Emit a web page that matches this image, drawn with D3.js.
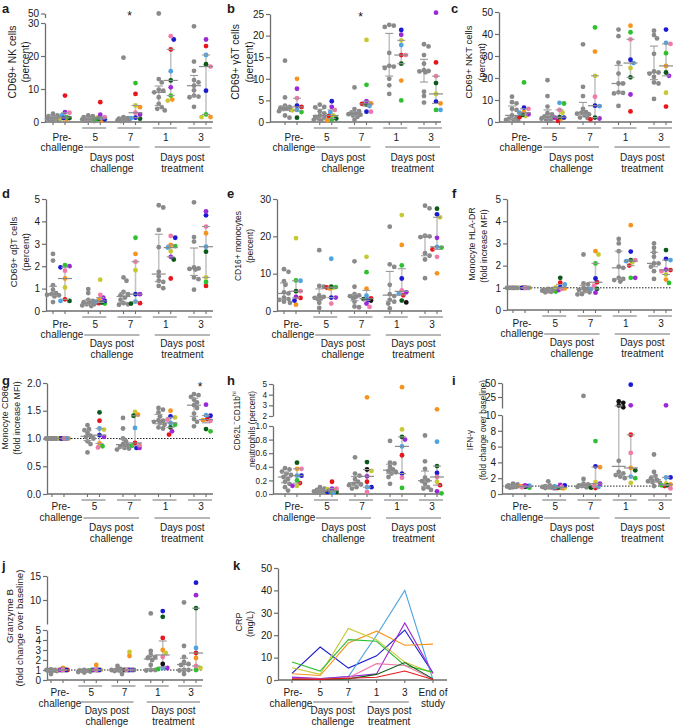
<!DOCTYPE html>
<html><head><meta charset="utf-8">
<script src="https://cdn.jsdelivr.net/npm/d3@7"></script>
<style>
body{margin:0;background:#fff}
text{font-family:'Liberation Sans',Arial,Helvetica,sans-serif;fill:#1a1a1a}
</style>
</head><body>
<script>
// ---------------- DATA ----------------
const groups = ["Pre-challenge","5","7","1","3"];
const subjectNames = ["red","orange","yellow","green","darkgreen","lightblue","blue","purple","pink","black"];
const subjectColors = ["#e8161c","#f7941d","#c8c834","#2ec02e","#0b5a1a","#4ea4e2","#1a1ad2","#9b2ad6","#f07aa8","#111111"];

// a: CD69+ NK cells (percent)
const aGray = [[2.5,2.0,1.8,1.5,1.3,1.2,1.0,1.0,0.8,0.6,0.5],[2.0,1.8,1.5,1.2,1.0,0.9,0.8,0.6,0.5,0.4,0.3],[19.5,1.5,1.2,1.0,1.0,0.9,0.8,0.7,0.5,0.4,0.3],[50,13,12,9.8,9.5,9,7.5,5.5,4.5,4,3.5],[29,18.3,15.5,12.7,12,11,9.6,8,7.7,7.5,4.6]];
const aColor = [[8,0.8,1.0,1.5,1.2,2.0,1.2,3.0,2.8,null],[6,0.5,1.3,0.9,1.0,1.2,0.8,2.2,1.5,null],[8.5,4.5,5.0,11.8,1.0,1.2,1.3,2.3,2.8,null],[22,6.8,6.5,8,12.6,15.4,25,10.5,26,null],[23,1.5,1.5,2.3,17.5,20.3,9.5,25,16.8,null]];
// b: CD69+ gdT cells
const bGray = [[14.2,5.7,3.8,3.5,3.3,3.1,3.0,2.8,2.5,1.5,1.0],[4.0,3.5,3.4,2.5,2.0,1.5,1.2,1.0,0.8,0.5,0.3],[8.0,3.0,2.5,2.2,2.0,1.8,1.7,1.5,1.2,0.5],[22.5,22.3,22.0,16,13,12.8,12.5,10,8.5,6.5],[18,17.5,15.5,13.5,12,11.8,11.7,11.5,7,6,4.5]];
const bColor = [[3.5,10,2.7,2.3,1.0,2.8,3.8,7.7,5.5,null],[1.4,0.4,1.5,0.6,0.8,2.3,4.8,3.5,2.8,null],[4.2,4.3,19,8.6,4.0,3.7,2.4,4.8,2.4,null],[15.5,9.6,18.9,5.0,13.5,17.8,21.3,20.2,15.5,null],[13.8,4.3,6.5,2.8,9.0,2.8,4.7,25.3,10.6,null]];
// c: CD69+ NKT cells
const cGray = [[11.5,9,8.5,6,5.5,3,2,1.5,1,1,0.8],[19,11.8,7,4,3.5,2.5,2,1.8,1.5,1.2,0.5],[35.3,16,11.8,6,4.5,4.3,3.8,3.5,3,2,1.8],[42,39,27,22,17.5,17.5,13.5,13.2,13,7.3],[41.5,39.5,38,31,23,22.5,22,20.5,18,17.5,10.5]];
const cColor = [[2.2,4.5,2.7,18,3.2,4.2,6.5,3.5,6.0,null],[0.5,1.5,4.2,8.4,2.2,8.7,2.0,2.0,5.5,null],[1.2,32,21,43,2.0,7.2,7.4,1.6,11.5,null],[4.8,43.8,24.5,40.8,20.3,26.8,28.3,12.5,37.6,null],[7,25.5,13.3,31.3,22.5,36,42,21,35.5,null]];
// d: CD69+ abT cells
const dGray = [[2.55,2.25,1.15,0.95,0.8,0.75,0.72,0.7,0.65,0.4],[0.98,0.8,0.5,0.45,0.4,0.35,0.3,0.3,0.25,0.22],[1.5,1.35,0.85,0.75,0.7,0.6,0.5,0.35,0.3,0.28],[4.72,4.62,3.62,2.85,1.75,1.55,1.35,1.3,1.12,1.02],[4.85,3.3,3.1,1.95,1.9,1.88,1.85,1.5,1.42,0.95]];
const dColor = [[0.52,1.45,1.05,2.05,0.45,0.45,1.95,2.0,1.8,null],[0.35,0.5,1.4,0.33,0.38,0.42,0.45,0.6,0.72,null],[0.35,2.55,1.82,3.27,0.33,0.42,0.75,0.75,2.2,null],[1.45,2.95,2.67,2.9,2.3,2.83,3.27,2.42,3.35,null],[1.12,3.47,1.5,1.3,2.65,2.87,4.27,4.45,3.77,null]];
// e: CD16+ monocytes
const eGray = [[11.2,10.5,8,7,5,4.7,3.6,3.2,3,2.5,2.2],[16.3,6.7,6.5,4.2,3.8,3.5,3.3,3.2,2.2,0.8],[13.3,6.5,4.5,4.2,4.0,3.8,3.5,2.5,1.2,1.0],[22.6,12.5,11.8,7,4.5,4,3,2.5,2,0.7],[28.2,27.5,20.2,20,19.8,15.5,14.8,13.8,8.8]];
const eColor = [[3.5,1.7,19.5,8.2,5.3,8.1,2.8,3.8,5.3,null],[6.3,6.0,6.2,6.4,6.5,14,3.6,3.6,2.0,null],[3.4,6.0,14.5,10.4,3.2,4.1,3.0,2.0,1.1,2.8],[4.2,17.7,25.7,12.2,2.8,4.6,8.7,5.0,5.5,2.3],[16.5,10.1,25.1,17,27.4,17.2,25.9,19.6,14.5,null]];
// f: Monocyte HLA-DR
const fGray = [[1,1,1,1,1,1,1,1,1,1],[0.95,0.95,0.92,0.9,0.9,0.88,0.87,0.85,0.82,0.8],[2.5,1.2,1.15,1.0,0.95,0.9,0.85,0.8,0.72,0.7],[3.2,3.0,2.65,1.95,1.9,1.45,1.4,1.35,1.28],[3.0,2.8,2.6,2.4,2.1,2.1,1.95,1.75,1.4]];
const fColor = [[1,1,1,1,1,1,1,1,1,null],[1.23,0.97,1.02,0.83,1.45,1.15,1.03,0.9,0.95,null],[1.25,2.65,2.5,2.1,0.95,0.95,1.42,0.78,1.1,null],[2.0,3.82,2.15,1.45,2.25,2.2,2.63,1.45,2.25,null],[1.8,1.37,1.6,1.22,2.7,2.25,2.3,1.82,1.75,null]];
// g: Monocyte CD86
const gGray = [[1,1,1,1,1,1,1,1,1,1],[1.24,1.17,1.15,1.1,1.05,1.03,1.0,0.95,0.9,0.75],[1.37,1.18,1.0,0.95,0.9,0.88,0.85,0.83,0.82,0.8],[1.55,1.52,1.47,1.4,1.33,1.32,1.3,1.28,1.25,1.2,1.18],[1.8,1.78,1.75,1.7,1.65,1.6,1.55,1.45,1.35,1.3,1.22]];
const gColor = [[1,1,1,1,1,1,1,1,1,null],[1.32,0.91,1.16,0.86,1.47,1.18,1.06,1.03,0.84,null],[0.92,1.43,1.48,0.87,1.41,1.19,0.83,0.83,0.88,null],[1.07,1.5,1.38,1.25,1.2,1.28,1.4,1.13,1.34,null],[1.35,1.33,null,1.13,1.17,1.42,1.41,1.61,1.32,null]];
// h: CD62L- CD11b hi neutrophils
const hGray = [[0.38,0.36,0.33,0.3,0.28,0.25,0.22,0.18,0.15,0.1,0.05],[0.1,0.08,0.06,0.05,0.04,0.04,0.03,0.03,0.02,0.02],[0.54,0.3,0.27,0.22,0.18,0.15,0.14,0.13,0.1,0.08],[0.78,0.46,0.45,0.4,0.36,0.34,0.32,0.3,0.25,0.15],[0.86,0.48,0.37,0.24,0.2,0.19,0.15,0.1,0.08,0.06]];
const hColor = [[0.16,0.37,0.12,0.2,0.46,0.27,0.27,0.12,0.37,null],[0.18,0.05,0.07,0.04,0.03,0.02,0.03,0.08,0.08,null],[0.18,3.75,0.34,null,0.47,0.1,0.1,0.26,0.03,0.36],[0.57,4.7,0.95,0.09,0.84,0.7,0.3,0.8,0.24,null],[0.13,2.63,0.18,0.01,0.41,0.77,0.31,0.04,0.25,null]];
// i: IFN-gamma
const iGray = [[1.3,1.2,1.1,1.05,1.0,1.0,0.95,0.9,0.85,0.8],[1.6,1.1,1.0,0.95,0.9,0.85,0.8,0.75,0.7],[27,1.9,1.3,1.2,1.1,1.05,1.0,0.95,0.9,0.85],[4.2,2.8,2.6,2.4,2.2,2.0],[5,2.8,2.3,2.0,1.8,1.6,1.5,1.4,1.0]];
const iGrayBlack = [[],[],[],[19,17,13.5,11],[]];
const iColor = [[0.95,1.0,0.95,0.8,0.9,1.05,1.0,1.1,0.85,null],[0.75,0.7,0.8,0.8,0.85,0.9,1.1,1.15,0.9,null],[0.75,3.4,1.5,6.7,0.8,0.9,3.5,1.3,1.0,null],[7.5,3.3,1.4,2.0,3.0,2.2,47,13.6,5.2,null],[1.0,1.2,1.3,1.1,1.1,2.1,2.1,13.6,0.7,null]];
// j: Granzyme B
const jGray = [[1.0,1.0,0.95,0.9,1.05,1.0,0.6,1.0,0.95],[1.0,0.95,0.9,0.85,0.8,0.75,0.95,0.9],[1.4,1.1,1.0,1.0,0.95,0.9,0.6,1.0],[7.2,2.9,2.5,2.3,2.2,2.0,1.5,1.0,1.0,0.95],[9.5,3.4,2.3,1.8,1.6,1.5,1.0,1.0,0.95,0.6]];
const jColor = [[1.0,1.2,1.0,1.0,1.0,1.0,1.0,1.0,1.0,null],[1.0,1.5,1.0,1.0,1.0,1.0,1.0,1.0,1.0,null],[1.0,2.4,2.8,1.0,1.0,1.0,1.0,1.0,1.0,null],[4.2,3.0,2.7,1.1,6.5,1.2,7.7,1.2,2.3,1.6],[2.7,2.2,1.2,1.0,8.3,3.2,13.6,11,1.4,null]];
// k: CRP (mg/L) per treated subject
const crpTimes = ["Pre-challenge","5","7","1","3","End of study"];
const crpSubjects = ["blue","lightblue","orange","yellow","green","purple","pink","darkgreen","red"];
const crpValues = [
  [3,14.7,5.3,10.8,22.3,3],
  [1,0.5,1.5,20,40,0],
  [2.8,2,16.5,21.8,15.5,16],
  [5.5,2.5,23,18,8,3],
  [8,4,18,17.3,6.5,3.5],
  [1.3,0.7,1.5,2.8,25.5,3],
  [0.5,0.3,1,7.3,6.5,0.5],
  [0.2,0.2,0.5,2.5,7.8,0.5],
  [0.5,0.3,0.8,1.2,4,0.2]
];
const yTicksA = [0,10,20,30], yTicksAUpper=[50];
const yTicksB = [0,5,10,15,20,25];
const yTicks50 = [0,10,20,30,40,50];
const yTicks5 = [0,1,2,3,4,5];
const yTicks30 = [0,10,20,30];
const yTicksG = [0,0.5,1.0,1.5,2.0];
const yTicksH = [0,0.2,0.4,0.6,0.8,1.0], yTicksHUpper=[2,3,4,5];
const yTicksI = [0,2,4,6,8,10], yTicksIUpper=[25,50];
const yTicksJ = [0,1,2,3,4,5], yTicksJUpper=[10,15];

// ---------------- LAYOUT ----------------
const W=674,H=727;
const svg = d3.select("body").append("svg").attr("width",W).attr("height",H);
const AX="#6e6e6e";
const rowOff = [[19,29,25,39,50],[17,27,24,36,47],[16,27,24,37,48],[16,27,22,34,45]];

const panels = [
 {id:"a",lx:2,ly:13,row:0,x0:45,c0:59,c1:200,xEnd:213,gray:aGray,col:aColor,title:["CD69+ NK cells","(percent)"],tx:[-33,-20],ty:[62,62],tf:10.3,
  segs:[{dom:[0,30],rng:[122,23],ticks:yTicksA},{dom:[40,50],rng:[17.5,13.5],ticks:yTicksAUpper}],star:{g:"7",v:50}},
 {id:"b",lx:227,ly:13,row:0,x0:270,c0:291,c1:430,xEnd:441,gray:bGray,col:bColor,title:["CD69+ γδT cells","(percent)"],tx:[-35,-21],ty:[62,62],tf:10.3,
  segs:[{dom:[0,25],rng:[122,14],ticks:yTicksB}],star:{g:"7",v:25}},
 {id:"c",lx:451,ly:13,row:0,x0:499,c0:518,c1:660,xEnd:672,gray:cGray,col:cColor,title:["CD69+ NKT cells","(percent)"],tx:[-31,-18],ty:[62,62],tf:9.5,
  segs:[{dom:[0,50],rng:[122,12],ticks:yTicks50}]},
 {id:"d",lx:2,ly:198,row:1,x0:46,c0:59,c1:200,xEnd:213,gray:dGray,col:dColor,title:["CD69+ αβT cells","(percent)"],tx:[-33,-21],ty:[252,252],tf:9.5,
  segs:[{dom:[0,5],rng:[311,199],ticks:yTicks5}]},
 {id:"e",lx:227,ly:198,row:1,x0:277,c0:290,c1:431,xEnd:442,gray:eGray,col:eColor,title:["CD16+ monocytes","(percent)"],tx:[-39,-27],ty:[246,246],tf:8.5,
  segs:[{dom:[0,30],rng:[311,199],ticks:yTicks30}]},
 {id:"f",lx:452,ly:198,row:1,x0:507,c0:519,c1:660,xEnd:672,gray:fGray,col:fColor,title:["Monocyte HLA-DR","(fold increase MFI)"],tx:[-35,-23],ty:[244,246],tf:8.8,
  segs:[{dom:[0,5],rng:[310,199],ticks:yTicks5}],ref:1},
 {id:"g",lx:2,ly:385,row:2,x0:47,c0:58,c1:200,xEnd:213,gray:gGray,col:gColor,title:["Monocyte CD86","(fold increase MFI)"],tx:[-42,-30],ty:[418,418],tf:8.8,
  segs:[{dom:[0,2],rng:[494,383],ticks:yTicksG,fmt:".1f"}],ref:1,star:{g:"3",v:1.98}},
 {id:"h",lx:227,ly:385,row:2,x0:273,c0:291,c1:431,xEnd:442,gray:hGray,col:hColor,title:null,tx:[-36,-21],ty:[421,429],tf:8.3,tick:8.2,
  segs:[{dom:[0,1],rng:[494,426],ticks:yTicksH,fmt:".1f"},{dom:[2,5],rng:[416,384],ticks:yTicksHUpper}]},
 {id:"i",lx:452,ly:385,row:2,x0:502,c0:519,c1:660,xEnd:672,gray:iGray,black:iGrayBlack,col:iColor,title:["IFN-γ","(fold change over baseline)"],tx:[-32,-19],ty:[440,430],tf:8.3,
  segs:[{dom:[0,10],rng:[494,415],ticks:yTicksI},{dom:[10,25,50],rng:[408,397,383],ticks:yTicksIUpper}],ref:1},
 {id:"j",lx:2,ly:570,row:3,x0:47,c0:57,c1:190,xEnd:203,gray:jGray,col:jColor,title:["Granzyme B","(fold change over baseline)"],tx:[-38,-28],ty:[616,628],tf:9.7,
  segs:[{dom:[0,5],rng:[680,630],ticks:yTicksJ},{dom:[5,15],rng:[624,576],ticks:yTicksJUpper}],ref:1}
];

function makeY(segs){
  segs.forEach(s=>s.sc=d3.scaleLinear().domain(s.dom).range(s.rng));
  return v=>{for(let i=0;i<segs.length;i++){const s=segs[i]; if(i===segs.length-1||v<=s.dom[s.dom.length-1]) return s.sc(v);} };
}

function swarm(vals, cx, yf, step, maxOff, minD){
  const pts = vals.map((v,i)=>({v,i,y:yf(v)})).sort((a,b)=>a.y-b.y||a.i-b.i);
  const placed=[];
  const nK = Math.floor(maxOff/step)*2;
  pts.forEach(p=>{
    let best=null, bestD=-1;
    for(let k=0;k<=nK;k++){
      const off=(k%2===1?1:-1)*Math.ceil(k/2)*step;
      const xx=cx+off;
      let md=Infinity;
      placed.forEach(q=>{md=Math.min(md,Math.hypot(q.x-xx,q.y-p.y));});
      if(md>=minD){best=xx;break;}
      if(md>bestD){bestD=md;best=xx;}
    }
    p.x=best; placed.push(p);
  });
  return pts.sort((a,b)=>a.i-b.i);
}

function xLabels(g,x,yb,off){
  const t=(xx,yy,s)=>g.append("text").attr("x",xx).attr("y",yy).attr("text-anchor","middle").attr("font-size",10).text(s);
  const cPre=x("Pre-challenge");
  t(cPre+3,yb+off[0],"Pre-"); t(cPre+3,yb+off[1],"challenge");
  ["5","7","1","3"].forEach(k=>{
    const c=x(k);
    g.append("line").attr("x1",c-12).attr("x2",c+12).attr("y1",yb+6).attr("y2",yb+6).attr("stroke",AX).attr("stroke-width",1);
    t(c+1,yb+off[0],k);
  });
  [["5","7","challenge"],["1","3","treatment"]].forEach(([a,b,w])=>{
    const x1=x(a)-10,x2=x(b)+10;
    g.append("line").attr("x1",x1).attr("x2",x2).attr("y1",yb+off[2]).attr("y2",yb+off[2]).attr("stroke",AX).attr("stroke-width",1);
    t((x1+x2)/2,yb+off[3],"Days post"); t((x1+x2)/2,yb+off[4],w);
  });
}

function drawYAxis(g,p){
  p.segs.forEach(s=>{
    const ax=d3.axisLeft(s.sc).tickValues(s.ticks).tickSize(4).tickSizeOuter(0).tickPadding(2)
      .tickFormat(s.fmt?d3.format(s.fmt):d3.format("d"));
    const ag=g.append("g").attr("transform",`translate(${p.x0},0)`).call(ax);
    ag.select(".domain").attr("stroke",AX).attr("stroke-width",1.3);
    ag.selectAll(".tick line").attr("stroke",AX).attr("stroke-width",1.2);
    ag.selectAll(".tick text").attr("font-size",p.tick||10).attr("fill","#1a1a1a").style("font-family","'Liberation Sans',Arial,sans-serif");
  });
}

function stats(vals){
  const s=vals.slice().sort(d3.ascending);
  return {q1:d3.quantile(s,0.25),md:d3.quantile(s,0.5),q3:d3.quantile(s,0.75)};
}

panels.forEach(p=>{
  const g=svg.append("g");
  const y=makeY(p.segs);
  const x=d3.scalePoint().domain(groups).range([p.c0,p.c1]);
  const yb=p.segs[0].rng[0];
  g.append("text").attr("x",p.lx).attr("y",p.ly).attr("font-size",13).attr("font-weight","bold").text(p.id);
  if(p.ref!==undefined){
    g.append("line").attr("x1",p.x0).attr("x2",p.xEnd).attr("y1",y(p.ref)).attr("y2",y(p.ref))
      .attr("stroke","#222").attr("stroke-width",1).attr("stroke-dasharray","1.5,1.5");
  }
  g.append("line").attr("x1",p.x0).attr("x2",p.xEnd).attr("y1",yb).attr("y2",yb).attr("stroke",AX).attr("stroke-width",1.3);
  groups.forEach(k=>{[-6,6].forEach(o=>{g.append("line").attr("x1",x(k)+o).attr("x2",x(k)+o).attr("y1",yb).attr("y2",yb+3).attr("stroke",AX).attr("stroke-width",1.1);});});
  drawYAxis(g,p);
  xLabels(g,x,yb,rowOff[p.row]);
  if(p.title){
    p.title.forEach((s,k)=>{
      g.append("text").attr("transform",`translate(${p.x0+p.tx[k]},${p.ty[k]}) rotate(-90)`)
        .attr("text-anchor","middle").attr("dominant-baseline","central").attr("font-size",p.tf).text(s);
    });
  } else {
    const t1=g.append("text").attr("transform",`translate(${p.x0+p.tx[0]},${p.ty[0]}) rotate(-90)`).attr("text-anchor","middle").attr("dominant-baseline","central").attr("font-size",p.tf);
    t1.append("tspan").text("CD62L");
    t1.append("tspan").attr("font-size",p.tf*0.7).attr("dy",-3.5).text("−");
    t1.append("tspan").attr("dy",3.5).text("CD11b");
    t1.append("tspan").attr("font-size",p.tf*0.7).attr("dy",-3.5).text("hi");
    g.append("text").attr("transform",`translate(${p.x0+p.tx[1]},${p.ty[1]}) rotate(-90)`).attr("text-anchor","middle").attr("dominant-baseline","central").attr("font-size",p.tf).text("neutrophils (percent)");
  }
  groups.forEach((k,gi)=>{
    const cg=x(k)-6, cc=x(k)+6;
    const grayV=p.gray[gi];
    const blackV=p.black?p.black[gi]:[];
    const allG=grayV.concat(blackV);
    const colV=p.col[gi].map((v,si)=>({v,si})).filter(d=>d.v!==null);
    const sg=stats(allG), sc=stats(colV.map(d=>d.v));
    [[cg,sg],[cc,sc]].forEach(([cx,s])=>{
      g.append("line").attr("x1",cx).attr("x2",cx).attr("y1",y(s.q1)).attr("y2",y(s.q3)).attr("stroke","#c4c4c4").attr("stroke-width",1.6);
    });
    const gp=swarm(allG,cg,y,1.5,6,4.0);
    gp.forEach(d=>{
      const isBlack=d.i>=grayV.length;
      g.append("circle").attr("cx",d.x).attr("cy",d.y).attr("r",2.4).attr("fill",isBlack?"#111":"#8a8a8a");
    });
    const cp=swarm(colV.map(d=>d.v),cc,y,1.5,5,4.0);
    cp.forEach(d=>{
      g.append("circle").attr("cx",d.x).attr("cy",d.y).attr("r",2.4).attr("fill",subjectColors[colV[d.i].si]);
    });
    [[cg,sg],[cc,sc]].forEach(([cx,s])=>{
      [s.q1,s.q3].forEach(v=>g.append("line").attr("x1",cx-4).attr("x2",cx+4).attr("y1",y(v)).attr("y2",y(v)).attr("stroke","#9a9a9a").attr("stroke-width",1.1));
      g.append("line").attr("x1",cx-7).attr("x2",cx+7).attr("y1",y(s.md)).attr("y2",y(s.md)).attr("stroke","#8a8a8a").attr("stroke-width",1.2);
    });
  });
  if(p.star){
    g.append("text").attr("x",x(p.star.g)).attr("y",y(p.star.v)+6.5).attr("text-anchor","middle").attr("font-size",12).style("fill","#111").text("*");
  }
});

// ---------- panel k : CRP ----------
(function(){
  const g=svg.append("g");
  const x0=278,xEnd=447,yb=680;
  const x=d3.scalePoint().domain(crpTimes).range([292,433]);
  const y=d3.scaleLinear().domain([0,50]).range([680,568]);
  g.append("text").attr("x",233).attr("y",570).attr("font-size",13).attr("font-weight","bold").text("k");
  g.append("line").attr("x1",x0).attr("x2",xEnd).attr("y1",yb).attr("y2",yb).attr("stroke",AX).attr("stroke-width",1.3);
  crpTimes.forEach(k=>g.append("line").attr("x1",x(k)).attr("x2",x(k)).attr("y1",yb).attr("y2",yb+3).attr("stroke",AX).attr("stroke-width",1.1));
  const ax=d3.axisLeft(y).tickValues(yTicks50).tickSize(4).tickSizeOuter(0).tickPadding(2);
  const ag=g.append("g").attr("transform",`translate(${x0},0)`).call(ax);
  ag.select(".domain").attr("stroke",AX).attr("stroke-width",1.3);
  ag.selectAll(".tick line").attr("stroke",AX).attr("stroke-width",1.2);
  ag.selectAll(".tick text").attr("font-size",10).attr("fill","#1a1a1a").style("font-family","'Liberation Sans',Arial,sans-serif");
  [["CRP",-39,622],["(mg/L)",-28,624]].forEach(([s,o,yy])=>g.append("text").attr("transform",`translate(${x0+o},${yy}) rotate(-90)`).attr("text-anchor","middle").attr("dominant-baseline","central").attr("font-size",9).text(s));
  const line=d3.line().x((d,i)=>x(crpTimes[i])).y(d=>y(d));
  crpValues.forEach((vals,si)=>{
    const col=subjectColors[subjectNames.indexOf(crpSubjects[si])];
    g.append("path").attr("d",line(vals)).attr("fill","none").attr("stroke",col).attr("stroke-width",1.1);
  });
  const off=rowOff[3];
  const t=(xx,yy,s)=>g.append("text").attr("x",xx).attr("y",yy).attr("text-anchor","middle").attr("font-size",10).text(s);
  t(x("Pre-challenge")+1,yb+off[0],"Pre-"); t(x("Pre-challenge")-1,yb+off[1],"challenge");
  ["5","7","1","3"].forEach(k=>t(x(k),yb+off[0],k));
  t(x("End of study"),yb+off[0],"End of"); t(x("End of study"),yb+off[1],"study");
  [["5","7","challenge"],["1","3","treatment"]].forEach(([a,b,w])=>{
    const x1=x(a)-7,x2=x(b)+4;
    g.append("line").attr("x1",x1).attr("x2",x2).attr("y1",yb+off[2]).attr("y2",yb+off[2]).attr("stroke",AX).attr("stroke-width",1);
    t((x1+x2)/2,yb+off[3],"Days post"); t((x1+x2)/2,yb+off[4],w);
  });
})();
</script>
</body></html>
